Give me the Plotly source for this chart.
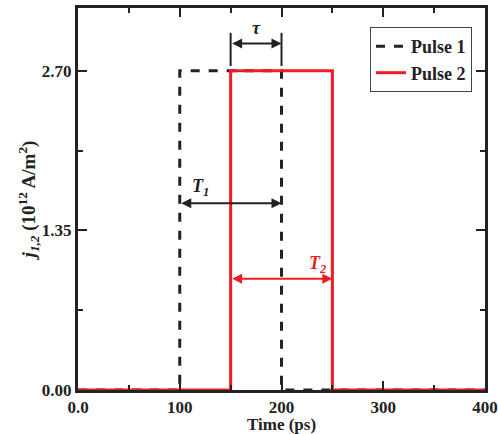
import plotly.graph_objects as go

# Data
pulse1_t = [0, 100, 100, 200, 200, 400]
pulse1_j = [0, 0, 2.70, 2.70, 0, 0]
pulse2_t = [0, 150, 150, 250, 250, 400]
pulse2_j = [0, 0, 2.70, 2.70, 0, 0]
y_ticks = [0.0, 1.35, 2.70]
x_ticks = [0, 100, 200, 300, 400]
x_tick_labels = ["0.0", "100", "200", "300", "400"]

FONT = "Liberation Serif"
INK = "#222222"
RED = "#ee1c24"

fig = go.Figure()
fig.add_trace(go.Scatter(x=pulse1_t, y=pulse1_j, mode="lines", name="<b>Pulse 1</b>",
                         line=dict(color=INK, width=3, dash="dash")))
fig.add_trace(go.Scatter(x=pulse2_t, y=pulse2_j, mode="lines", name="<b>Pulse 2</b>",
                         line=dict(color=RED, width=3)))

# tau marker bars
for xv in [150, 200]:
    fig.add_shape(type="line", x0=xv, x1=xv, y0=2.74, y1=3.02, xref="x", yref="y",
                  line=dict(color=INK, width=2))

def darrow(x0, x1, y, color):
    fig.add_annotation(x=x1, y=y, ax=x0, ay=y, xref="x", yref="y", axref="x", ayref="y",
                       text="", showarrow=True, arrowhead=2, arrowside="end+start",
                       arrowwidth=2, arrowsize=1, arrowcolor=color, standoff=0, startstandoff=0)

darrow(150, 200, 2.93, INK)
darrow(100, 200, 1.58, INK)
darrow(150, 250, 0.94, RED)

fig.add_annotation(x=175, y=3.06, text="<b><i>τ</i></b>", showarrow=False,
                   font=dict(family=FONT, size=18, color=INK))
fig.add_annotation(x=120, y=1.71, text="<b><i>T<sub>1</sub></i></b>", showarrow=False,
                   font=dict(family=FONT, size=18, color=INK))
fig.add_annotation(x=236, y=1.06, text="<b><i>T<sub>2</sub></i></b>", showarrow=False,
                   font=dict(family=FONT, size=18, color=RED))

# x-axis title (placed below tick labels)
fig.add_annotation(x=0.5, y=0, xref="paper", yref="paper", yanchor="top", yshift=-24,
                   text="<b>Time (ps)</b>", showarrow=False, borderpad=0,
                   font=dict(family=FONT, size=17, color=INK))

axis_common = dict(showline=True, linecolor=INK, linewidth=3, mirror="allticks",
                   ticks="inside", tickcolor=INK, tickwidth=2, showgrid=False,
                   zeroline=False, automargin=False,
                   tickfont=dict(family=FONT, size=17, color=INK, weight="bold"))

fig.update_xaxes(range=[0, 400], tickvals=x_ticks, ticktext=x_tick_labels, ticklen=9,
                 ticklabeloverflow="allow",
                 minor=dict(ticks="inside", dtick=50, ticklen=5, tickwidth=2, tickcolor=INK, showgrid=False),
                 **axis_common)
fig.update_yaxes(range=[0, 3.23], tickvals=y_ticks, tickformat=".2f", ticklen=9,
                 ticklabeloverflow="allow",
                 minor=dict(ticks="inside", dtick=0.675, tick0=0, ticklen=5, tickwidth=2, tickcolor=INK, showgrid=False),
                 title=dict(text="<i>j<sub>1,2</sub></i> (10<sup>12</sup> A/m<sup>2</sup>)",
                            font=dict(family=FONT, size=19, color=INK, weight="bold"), standoff=2),
                 **axis_common)

fig.update_layout(
    width=498, height=434,
    margin=dict(l=78, r=13, t=8, b=44),
    plot_bgcolor="white", paper_bgcolor="white",
    showlegend=True,
    legend=dict(x=0.968, y=0.95, xanchor="right", yanchor="top",
                bordercolor="#444444", borderwidth=1, bgcolor="white",
                font=dict(family=FONT, size=18, color=INK),
                itemwidth=30, tracegroupgap=0),
)

fig.write_html("out.html")
